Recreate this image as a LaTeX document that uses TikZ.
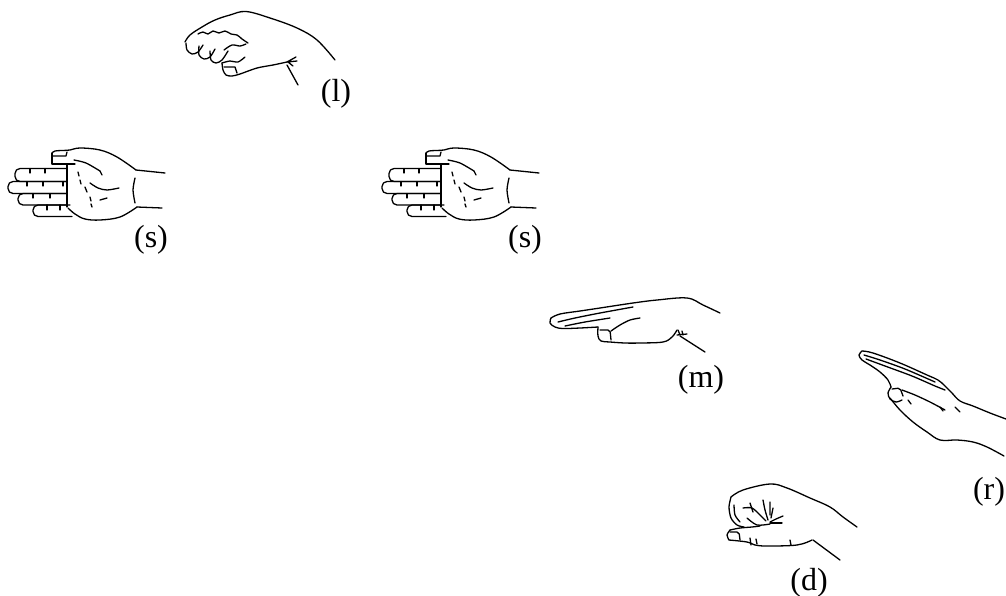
\documentclass[tikz,border=0pt]{standalone}
\usepackage{fontspec}
\setmainfont{Liberation Serif}
\tikzset{
  hl/.style={line width=1.3pt, line cap=round, line join=round},
  lab/.style={font=\fontsize{32}{38}\selectfont, anchor=base, inner sep=0pt},
  shand/.pic={
    % back of hand
    \draw[hl] plot[smooth,tension=0.6] coordinates {(52,153) (55,151) (62,150.5) (70,150) (80,148) (100,150) (117,157) (136,170)};
    \draw[hl] (136,170) -- (165,173);
    % thumb
    \draw[hl] (52,153) -- (52,164) -- (75,164);
    \draw[hl] (53,156) -- (66,156) -- (67,152);
    \draw[hl] plot[smooth] coordinates {(74,160) (86,163) (100,171)};
    \draw[hl] (100,171) -- (102,175);
    % fingers
    \draw[hl,rounded corners=5] (67,168.5) -- (15,168.5) -- (15,181.5) -- (67,181.5);
    \draw[hl,rounded corners=5] (67,181.5) -- (8,181.5) -- (8,193.5) -- (67,193.5);
    \draw[hl,rounded corners=5] (67,193.5) -- (18,193.5) -- (18,205) -- (67,205);
    \draw[hl,rounded corners=5] (70,205) -- (33,205) -- (33,216.5) -- (72,216.5);
    % finger joints
    \draw[hl] (30,168.5) -- (30,173) (45,168.5) -- (45,173);
    \draw[hl] (27,181.5) -- (27,186) (43,181.5) -- (43,186) (63,181.5) -- (63,186);
    \draw[hl] (33,193.5) -- (33,198) (50,193.5) -- (50,198);
    \draw[hl] (47,205) -- (47,210) (60,205) -- (60,210);
    % palm edge and bottom
    \draw[hl] (67,165) -- (67,207);
    \draw[hl] plot[smooth,tension=0.6] coordinates {(68,208) (75,214) (85,219) (100,220) (120,217) (137,207)};
    \draw[hl] (137,207) -- (162,208);
    % wrist crease
    \draw[hl] plot[smooth] coordinates {(135,178) (133,190) (135,203)};
    % palm creases
    \draw[hl] plot[smooth] coordinates {(90,183) (98,188) (107,190) (119,188)};
    \draw[hl] (78,172) -- (79,176) (80,180) -- (81,184);
    \draw[hl] (85,187) -- (87,192);
    \draw[hl] (90,197) -- (91,201) (91,204) -- (92,207);
    \draw[hl] (100,200) -- (107,198);
  }
}
\begin{document}
\begin{tikzpicture}[x=1pt,y=-1pt]
\useasboundingbox (0,0) rectangle (1006,595);

% ---------- hand (l) ----------
\draw[hl] plot[smooth,tension=0.6] coordinates {(185,42) (190,35) (202,27) (215,20) (230,15) (246,11.5) (270,18) (297,28) (317,40) (335,60)};
\draw[hl] plot[smooth,tension=0.7] coordinates {(198,34) (203,32) (208,34) (213,31) (219,33) (225,31) (231,34) (237,35) (242,39) (248,43)};
\draw[hl] plot[smooth] coordinates {(186,43) (187,50) (192,54) (198,52) (203,45)};
\draw[hl] plot[smooth] coordinates {(199,46) (199,55) (204,59) (210,57) (215,49)};
\draw[hl] plot[smooth] coordinates {(210,51) (211,60) (216,63) (222,60) (228,51)};
\draw[hl] plot[smooth] coordinates {(224,50) (232,45) (240,46) (246,44)};
\draw[hl] plot[smooth] coordinates {(222,63) (223,70) (226,75) (232,76) (240,74) (257,68) (273,65) (287,62)};
\draw[hl] plot[smooth] coordinates {(222,63) (230,61) (238,62) (245,57)};
\draw[hl] (224,67) -- (235,67) -- (237,73);
\draw[hl] (287,62) -- (296,57) (287,62) -- (297,61) (288,62) -- (293,66);
\draw[hl] (287,65) -- (298,85);
\node[lab] (lbl) at (336,101) {(l)};

% ---------- hands (s) ----------
\pic (sa) at (0,0) {shand};
\pic (sb) at (374,0) {shand};
\node[lab] (lsa) at (151,247) {(s)};
\node[lab] (lsb) at (525,247) {(s)};

% ---------- hand (m) ----------
\draw[hl] plot[smooth,tension=0.6] coordinates {(551,318) (560,314) (580,311) (600,308) (633,303) (657,300) (687,298) (703,305) (720,313)};
\draw[hl] plot[smooth,tension=0.6] coordinates {(551,318) (550,323) (555,327) (563,328.5) (580,328) (598,327)};
\draw[hl] plot[smooth] coordinates {(558,322) (575,318) (600,313) (633,307)};
\draw[hl] plot[smooth] coordinates {(565,326) (585,322) (610,318)};
\draw[hl] plot[smooth,tension=0.6] coordinates {(598,327) (598,336) (601,341) (610,342) (625,343) (640,343) (663,342) (672,337) (677,330)};
\draw[hl] plot[smooth] coordinates {(611,331) (620,325) (630,320) (640,318)};
\draw[hl,rounded corners=2] (600,330) -- (610,330) -- (611,340);
\draw[hl] (678,330) -- (680,335) (682,331) -- (683,335) (677,335) -- (687,334);
\draw[hl] (680,336) -- (705,352);
\node[lab] (lm) at (701,387) {(m)};

% ---------- hand (r) ----------
\draw[hl] plot[smooth,tension=0.6] coordinates {(862,351) (873,353) (900,363) (927,375) (938,380) (945,386) (952,393) (960,401) (973,406) (990,413) (1006,419)};
\draw[hl] plot[smooth,tension=0.6] coordinates {(862,351) (859,355) (862,360) (870,365) (880,372) (888,380) (891,387)};
\draw[hl] plot[smooth] coordinates {(864,355) (880,360) (905,369) (935,382)};
\draw[hl] plot[smooth] coordinates {(866,359) (885,366) (912,376) (935,386) (945,390)};
\draw[hl] plot[smooth] coordinates {(891,387) (888,393) (890,399) (896,402) (902,400)};
\draw[hl,rounded corners=2] (892,389) -- (900,388) -- (903,396);
\draw[hl] plot[smooth] coordinates {(902,390) (915,395) (930,402) (945,410)};
\draw[hl] plot[smooth,tension=0.6] coordinates {(890,398) (900,410) (913,422) (927,432) (940,440) (957,440) (973,442) (987,447) (1004,456)};
\draw[hl] (908,400) -- (911,404) (940,407) -- (943,411) (955,407) -- (960,412);
\node[lab] (lr) at (989,499) {(r)};

% ---------- hand (d) ----------
\draw[hl] plot[smooth,tension=0.6] coordinates {(731,497) (743,490) (770,484) (787,488) (810,498) (830,507) (843,517) (857,527)};
\draw[hl] plot[smooth] coordinates {(731,497) (729,507) (731,518) (737,525) (744,527)};
\draw[hl] plot[smooth] coordinates {(734,505) (735,515) (740,522)};
\draw[hl] plot[smooth] coordinates {(730,530) (740,528) (752,527) (760,526)};
\draw[hl] plot[smooth] coordinates {(730,530) (727,535) (729,540)};
\draw[hl,rounded corners=2] (730,532) -- (739,532) -- (740,540);
\draw[hl] plot[smooth,tension=0.6] coordinates {(729,540) (747,542) (755,545) (767,546) (797,545) (812,540)};
\draw[hl] (750,538) -- (751,545) (756,539) -- (757,544) (790,540) -- (791,545);
\draw[hl] (813,540) -- (840,560);
\draw[hl] plot[smooth] coordinates {(743,508) (752,508) (760,515) (766,521)};
\draw[hl] (750,503) -- (753,512);
\draw[hl] plot[smooth] coordinates {(763,500) (765,510) (768,520)};
\draw[hl] (770,502) -- (770,515) (773,508) -- (771,518);
\draw[hl] plot[smooth] coordinates {(783,516) (776,519) (770,522)};
\draw[hl] plot[smooth] coordinates {(782,523) (776,523) (770,523)};
\draw[hl] plot[smooth] coordinates {(747,518) (757,525) (770,524)};
\node[lab] (ld) at (809,590) {(d)};
\end{tikzpicture}
\end{document}
